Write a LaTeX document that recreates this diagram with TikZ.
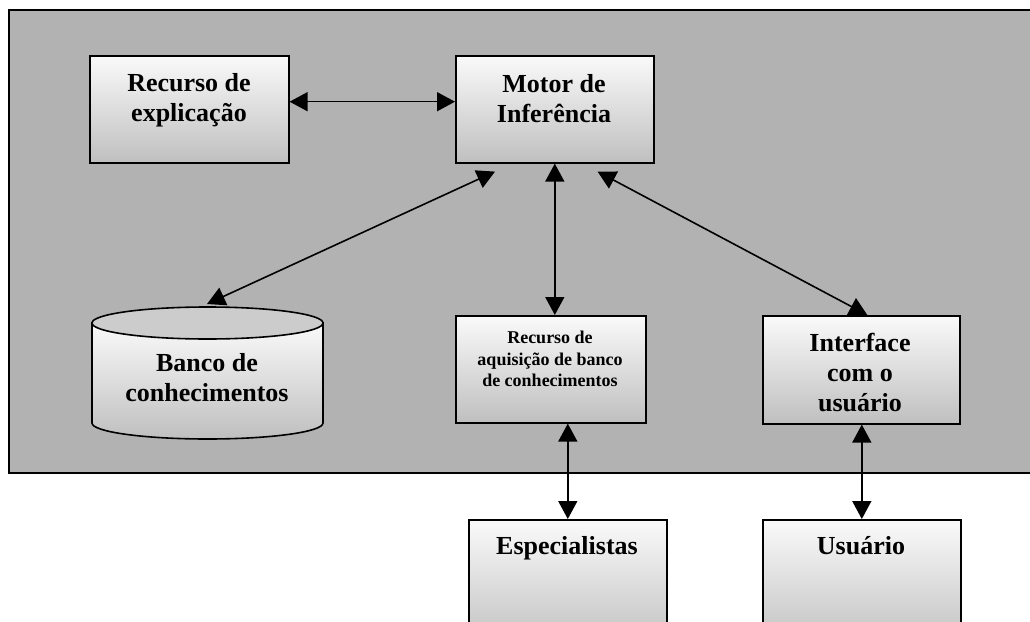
\documentclass[tikz,border=0pt]{standalone}
\usepackage{fontspec}
\setmainfont{Liberation Serif}
\usetikzlibrary{arrows.meta,calc}
\tikzset{
  box/.style={draw, line width=1.6pt, top color=white!98!black, bottom color=black!25, inner sep=0pt, anchor=north west},
  lbl/.style={font=\fontsize{26}{30}\selectfont\bfseries, align=center, inner sep=0pt, anchor=north},
  small/.style={font=\fontsize{18}{21.5}\selectfont\bfseries, align=center, inner sep=0pt, anchor=north},
  arr/.style={{Triangle[length=18pt,width=19pt]}-{Triangle[length=18pt,width=19pt]}, line width=1.6pt},
}
\begin{document}
\begin{tikzpicture}[x=1pt,y=-1pt]
\useasboundingbox (0,0) rectangle (1030,621);
\clip (0,0) rectangle (1030,621);
% background panel
\draw[line width=1.8pt, fill=black!30] (9,10) rectangle (1045,473);
% boxes
\node[box, minimum width=199pt, minimum height=107pt] (expl) at (89,55) {};
\node[box, minimum width=198pt, minimum height=107pt] (motor) at (455,55) {};
\node[box, minimum width=190pt, minimum height=107pt] (aquis) at (455,315) {};
\node[box, minimum width=197pt, minimum height=108pt] (interface) at (762,315) {};
\node[box, minimum width=198pt, minimum height=130pt] (espec) at (468,519) {};
\node[box, minimum width=198pt, minimum height=130pt] (usuario) at (762,519) {};
% cylinder
\shade[top color=white!98!black, bottom color=black!25, draw, line width=1.6pt]
  (92,323) -- (92,423) arc[start angle=180, end angle=360, x radius=115.5pt, y radius=16pt] -- (323,323) -- cycle;
\draw[line width=1.6pt, fill=black!20] (207.5,323) ellipse[x radius=115.5pt, y radius=16pt];
\coordinate (banco) at (207,304);
% labels
\node[lbl] (texpl) at (189,73) {Recurso de\\explicação};
\node[lbl] (tmotor) at (554,74) {Motor de\\Inferência};
\node[lbl] (tbanco) at (207,353) {Banco de\\conhecimentos};
\node[small] (taquis) at (550,331) {Recurso de\\aquisição de banco\\de conhecimentos};
\node[lbl] (tinter) at (860,333) {Interface\\com o\\usuário};
\node[lbl] (tespec) at (567,536) {Especialistas};
\node[lbl] (tusu) at (861,536) {Usuário};
% connectors
\draw[arr] ($(expl.north east)!0.43!(expl.south east)$) -- ($(motor.north west)!0.43!(motor.south west)$);
\draw[arr] ([shift={(40pt,-8pt)}]motor.south west) -- (banco);
\draw[arr] (motor.south) -- (motor.south |- aquis.north);
\draw[arr] ([shift={(-57pt,-8pt)}]motor.south east) -- ([xshift=6pt]interface.north);
\draw[arr] (espec.north |- aquis.south) -- (espec.north);
\draw[arr] (usuario.north |- interface.south) -- (usuario.north);
\end{tikzpicture}
\end{document}
